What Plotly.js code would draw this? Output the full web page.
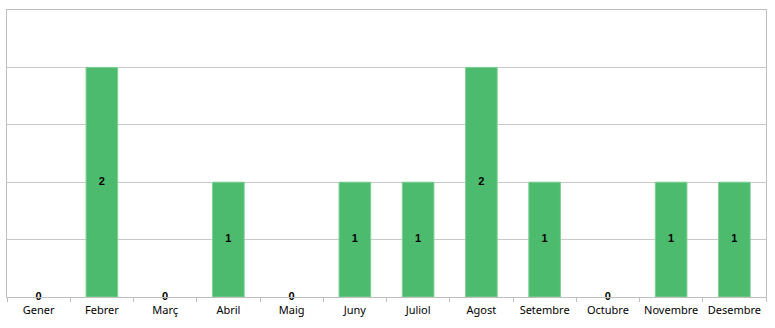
<!DOCTYPE html>
<html><head><meta charset="utf-8">
<script src="https://cdn.plot.ly/plotly-3.0.1.min.js"></script>
<style>html,body{margin:0;padding:0;background:#fff}#c{width:775px;height:328px}</style>
</head><body><div id="c"></div>
<script>
const months = ["Gener","Febrer","Març","Abril","Maig","Juny","Juliol","Agost","Setembre","Octubre","Novembre","Desembre"];
const values = [0,2,0,1,0,1,1,2,1,0,1,1];
const labelY = values.map(v => v/2);
const labelText = values.map(v => String(v));

const data = [
  {type:'bar', x:months, y:values, marker:{color:'#4dbb6e', line:{color:'#7fd096', width:values.map(v => v > 0 ? 1 : 0)}}, hoverinfo:'none'},
  {type:'scatter', mode:'text', x:months, y:labelY, text:labelText, textposition:'middle center',
   textfont:{family:'Liberation Sans, Arial, sans-serif', size:11, color:'#000', weight:'bold'}, hoverinfo:'none', cliponaxis:false}
];
const layout = {
  width:775, height:328, margin:{l:7, r:9, t:10, b:31, autoexpand:false},
  paper_bgcolor:'#fff', plot_bgcolor:'#fff', showlegend:false, bargap:0.5,
  font:{family:'Liberation Sans, Arial, sans-serif', size:11, color:'#000'},
  xaxis:{type:'category', range:[-0.5, months.length - 0.5], showline:true, mirror:true, linecolor:'#bfbfbf', linewidth:1, automargin:false,
    ticks:'outside', tickson:'boundaries', ticklen:4, tickcolor:'#bfbfbf', showgrid:false, tickangle:0, ticklabelstandoff:3,
    tickfont:{family:'Noto Sans, Liberation Sans, sans-serif', size:11, color:'#000'}},
  yaxis:{range:[0,2.5], dtick:0.5, showticklabels:false, showline:true, mirror:true, linecolor:'#bfbfbf',
    gridcolor:'#c8c8c8', gridwidth:1, zeroline:false, ticks:'', automargin:false}
};
Plotly.newPlot('c', data, layout, {staticPlot:true, displayModeBar:false});
</script></body></html>
